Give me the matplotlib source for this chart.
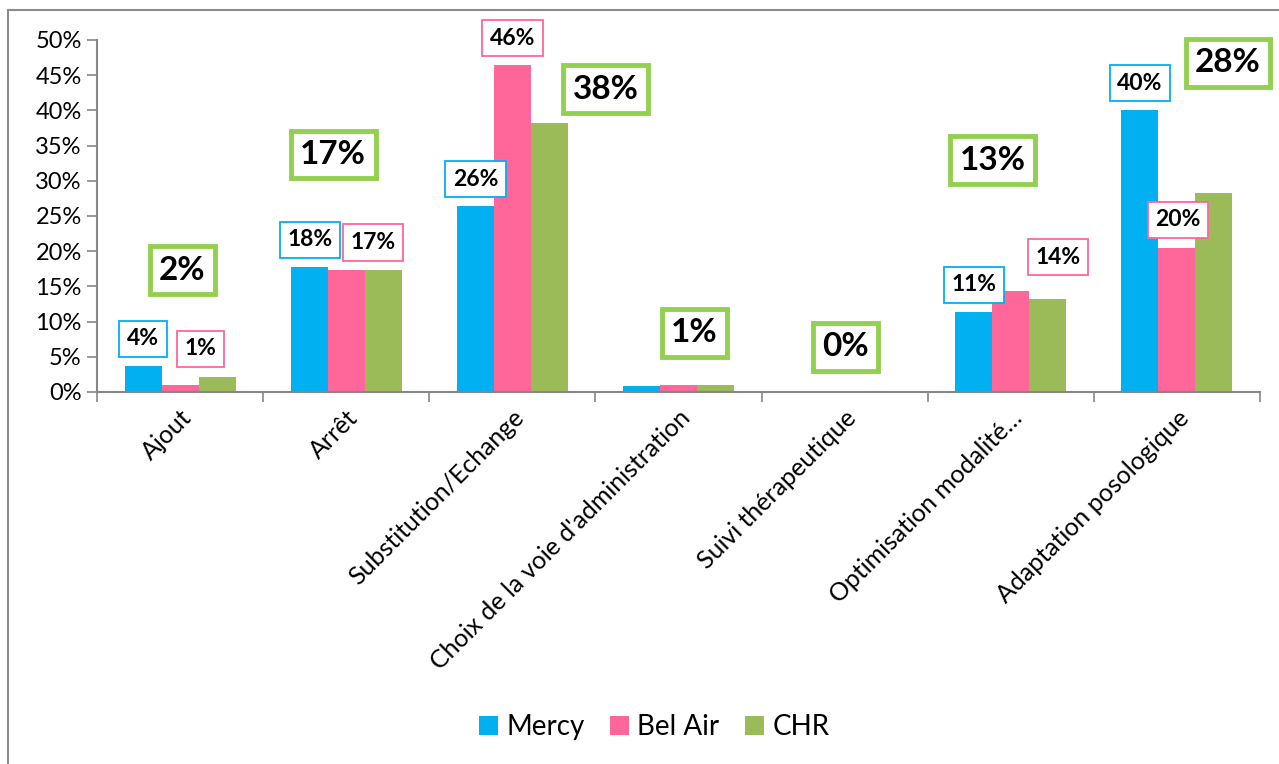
import matplotlib
matplotlib.use("Agg")
import matplotlib.pyplot as plt
from matplotlib.patches import Rectangle
import numpy as np

categories = ["Ajout", "Arrêt", "Substitution/Echange",
              "Choix de la voie d'administration", "Suivi thérapeutique",
              "Optimisation modalité…", "Adaptation posologique"]
mercy = [0.037, 0.178, 0.264, 0.009, 0.0, 0.114, 0.400]
bel_air = [0.010, 0.174, 0.464, 0.010, 0.0, 0.143, 0.205]
chr_ = [0.021, 0.174, 0.382, 0.010, 0.0, 0.132, 0.283]
series_names = ["Mercy", "Bel Air", "CHR"]
yticks = [0, 0.05, 0.10, 0.15, 0.20, 0.25, 0.30, 0.35, 0.40, 0.45, 0.50]

# style: label offsets in pixels relative to bar top centre (None = hidden)
off_mercy = [(0, 27), (1, 27), (0, 27), None, None, (0, 27), (0, 27)]
off_bel = [(20, 36), (27, 27), (0, 27), None, None, (47, 34), (1, 28)]
off_chr = [(-35, 107), (-50, 115), (56, 34), (-21, 52), (-36, 45), (-55, 139), (14, 130)]

colors = ["#00B0F0", "#FF6699", "#9BBB59"]
edge_cols = ["#00B0F0", "#FF6699", "#92D050"]

plt.rcParams['font.family'] = ['Lato', 'DejaVu Sans']

W, H = 1279, 764
fig = plt.figure(figsize=(W / 100, H / 100), dpi=100)
fig.patches.append(Rectangle((8 / W, -0.05), 1.2, 1 - 10 / H + 0.05, transform=fig.transFigure,
                             fill=False, edgecolor="#8C8C8C", linewidth=1.5))
ax = fig.add_axes([97 / W, 1 - 392 / H, (1260 - 97) / W, (392 - 40) / H])

x = np.arange(len(categories))
bw = 37 / 166
allvals = [mercy, bel_air, chr_]
offs = [off_mercy, off_bel, off_chr]
for k, vals in enumerate(allvals):
    xs = x + (k - 1) * bw
    ax.bar(xs, vals, width=bw, color=colors[k], label=series_names[k], zorder=2)
    for xi, v, o in zip(xs, vals, offs[k]):
        if o is None:
            continue
        txt = f"{v * 100:.0f}%"
        if k < 2:
            ax.annotate(txt, xy=(xi, v), xytext=o, textcoords="offset pixels",
                        ha="center", va="center", fontsize=16.5, fontweight="bold",
                        bbox=dict(boxstyle="square,pad=0.33", fc="white", ec=edge_cols[k], lw=1.3),
                        zorder=5)
        else:
            ax.annotate(txt, xy=(xi, v), xytext=o, textcoords="offset pixels",
                        ha="center", va="center", fontsize=24, fontweight="bold",
                        bbox=dict(boxstyle="square,pad=0.28", fc="white", ec=edge_cols[k], lw=3.5),
                        zorder=5)

ax.set_xlim(-0.5, len(categories) - 0.5)
ax.set_ylim(0, 0.5)
ax.set_yticks(yticks)
ax.set_yticklabels([f"{t * 100:.0f}%" for t in yticks], fontsize=17)
ax.set_xticks(x)
ax.set_xticklabels(categories, rotation=45, ha="right", rotation_mode="anchor", fontsize=18)
ax.tick_params(axis="x", length=0, pad=10)
ax.set_xticks(np.arange(-0.5, len(categories)), minor=True)
ax.tick_params(axis="x", which="minor", length=7, color="#868686", width=1.2)
ax.tick_params(axis="y", length=7, color="#868686", width=1.2, pad=4)
for s in ["top", "right"]:
    ax.spines[s].set_visible(False)
for s in ["left", "bottom"]:
    ax.spines[s].set_color("#868686")
    ax.spines[s].set_linewidth(1.5)

leg = fig.legend(loc="center", bbox_to_anchor=(654 / W, 1 - 727 / H), ncol=3, frameon=False,
                 fontsize=20, handlelength=0.7, handleheight=0.7, handletextpad=0.3,
                 columnspacing=0.9)

fig.savefig("out.png", dpi=100)
